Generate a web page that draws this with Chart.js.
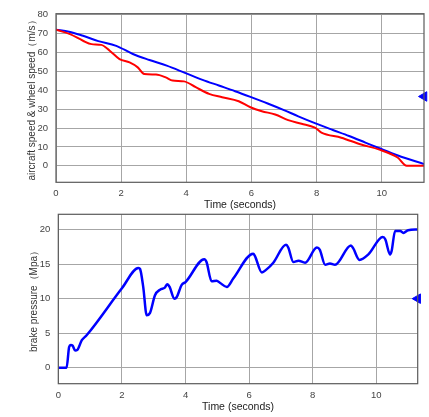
<!DOCTYPE html>
<html>
<head>
<meta charset="utf-8">
<script src="https://cdn.jsdelivr.net/npm/chart.js"></script>
<style>
    body { margin: 0; background: #fff; width: 429px; height: 417px; position: relative; overflow: hidden; }
    canvas { position: absolute; left: 0; }
    #speedChart { top: 0; }
    #pressureChart { top: 200px; }
</style>
</head>
<body>
<canvas id="speedChart" width="429" height="212"></canvas>
<canvas id="pressureChart" width="429" height="217"></canvas>
<script>
/* ============================================
   DATA
   ============================================ */
const timeAircraft = [0, 0.4, 0.83, 1.3, 1.85, 2.36, 2.87, 3.4, 3.96, 4.5, 5.0, 5.5, 5.97, 6.5, 7.0, 7.44, 7.95, 8.5, 9.0, 9.5, 9.93, 10.5, 11.3];
const aircraftSpeed = [72, 71, 68.8, 66, 63.5, 59.2, 56, 53, 49.2, 45.5, 42.5, 39.5, 36.5, 33, 29.5, 26.2, 22.6, 19, 15.8, 12.3, 9.3, 5.5, 1];

const timeWheel = [0, 0.43, 0.83, 1.09, 1.39, 1.65, 1.95, 2.26, 2.51, 2.71, 3.07, 3.37, 3.58, 3.93, 4.29, 4.7, 5.1, 5.61, 5.97, 6.32, 6.73, 7.13, 7.54, 7.95, 8.15, 8.76, 9.37, 9.93, 10.49, 10.77, 11.3];
const wheelSpeed = [72, 69.7, 66.2, 64.4, 64, 60.9, 56.5, 54.7, 52.1, 48.6, 48.3, 46.8, 45.1, 44.7, 41.6, 38.1, 36.3, 34.2, 31, 28.9, 27.2, 24.2, 22.3, 20.2, 17.6, 14.9, 11.3, 8.6, 4.4, 0, 0];

const timePressure = [0, 0.26, 0.34, 0.39, 0.45, 0.53, 0.6, 0.74, 0.89, 2.0, 2.52, 2.57, 2.67, 2.78, 2.88, 3.04, 3.2, 3.35, 3.43, 3.5, 3.65, 3.72, 3.88, 4.0, 4.59, 4.66, 4.82, 4.98, 5.08, 5.3, 5.5, 6.13, 6.18, 6.4, 6.54, 6.76, 7.16, 7.23, 7.39, 7.55, 7.76, 8.13, 8.22, 8.39, 8.54, 8.7, 9.2, 9.27, 9.47, 9.75, 10.2, 10.28, 10.43, 10.48, 10.59, 10.75, 10.85, 11.0, 11.3];
const brakePressure = [0, 0, 3.0, 3.3, 3.2, 2.5, 2.6, 4.0, 4.7, 11.5, 14.45, 14.3, 11.7, 7.6, 7.9, 10.5, 11.3, 11.6, 12.1, 11.7, 10.0, 10.2, 12.0, 12.4, 15.7, 15.3, 12.5, 12.6, 12.3, 11.7, 12.9, 16.5, 16.2, 13.8, 14.2, 15.2, 17.8, 17.4, 15.3, 15.5, 15.2, 17.4, 17.1, 14.9, 15.1, 14.9, 17.7, 17.3, 15.6, 16.4, 18.9, 18.6, 16.4, 16.9, 19.8, 19.8, 19.5, 19.9, 20];

// right-edge marker values
const speedMarker = 36.7;
const pressureMarker = 10;

const timeTicks = [0, 2, 4, 6, 8, 10];
const speedTicks = [0, 10, 20, 30, 40, 50, 60, 70, 80];
const pressureTicks = [0, 5, 10, 15, 20];

/* ============================================
   HELPERS
   ============================================ */
const toPoints = (xs, ys) => xs.map((x, i) => ({ x: x, y: ys[i] }));

const FONT = "'Liberation Sans', Arial, sans-serif";
const GRID = '#a6a6a6';

// draw the box frame around the plot area
const framePlugin = {
    id: 'frame',
    afterDatasetsDraw(chart) {
        const { ctx, chartArea: a } = chart;
        ctx.save();
        ctx.strokeStyle = '#5a5a5a';
        ctx.lineWidth = 1.2;
        ctx.strokeRect(a.left, a.top, a.right - a.left, a.bottom - a.top);
        ctx.restore();
    }
};

function lineSet(data, color, width) {
    return {
        data: data,
        borderColor: color,
        borderWidth: width,
        pointRadius: 0,
        fill: false,
        cubicInterpolationMode: 'monotone'
    };
}

function markerSet(x, y) {
    return {
        data: [{ x: x, y: y }],
        showLine: false,
        pointStyle: 'triangle',
        rotation: -90,
        pointRadius: 5.5,
        backgroundColor: '#0000ff',
        borderColor: '#0000ff',
        clip: false
    };
}

function makeOptions(cfg) {
    return {
        responsive: false,
        animation: false,
        layout: { padding: cfg.padding, autoPadding: false },
        plugins: { legend: { display: false }, tooltip: { enabled: false } },
        scales: {
            x: {
                type: 'linear',
                min: 0,
                max: 11.3,
                afterBuildTicks: s => { s.ticks = timeTicks.map(v => ({ value: v })); },
                afterFit: s => { s.height = cfg.xHeight; },
                grid: { color: GRID, drawTicks: false },
                border: { display: false },
                ticks: { color: '#444', font: { family: FONT, size: 9.5 }, padding: cfg.xTickPad },
                title: {
                    display: true,
                    text: 'Time (seconds)',
                    color: '#222',
                    font: { family: FONT, size: 10.5 },
                    padding: { top: 0, bottom: cfg.xTitlePad }
                }
            },
            y: {
                type: 'linear',
                min: cfg.yMin,
                max: cfg.yMax,
                afterBuildTicks: s => { s.ticks = cfg.yTicks.map(v => ({ value: v })); },
                afterFit: s => { s.width = cfg.yWidth; },
                grid: { color: GRID, drawTicks: false },
                border: { display: false },
                ticks: { color: '#444', font: { family: FONT, size: 9.5 }, padding: 8 },
                title: {
                    display: true,
                    text: cfg.yTitle,
                    color: '#333',
                    font: { family: FONT, size: 10 },
                    padding: { top: cfg.yTitlePad, bottom: 0 }
                }
            }
        }
    };
}

/* ============================================
   TOP: aircraft speed & wheel speed
   ============================================ */
new Chart(document.getElementById('speedChart'), {
    type: 'line',
    data: {
        datasets: [
            lineSet(toPoints(timeWheel, wheelSpeed), '#ff0000', 2),
            lineSet(toPoints(timeAircraft, aircraftSpeed), '#0000ff', 2),
            markerSet(11.3, speedMarker)
        ]
    },
    options: makeOptions({
        padding: { top: 12.7, right: 5, left: 0, bottom: 0 },
        xHeight: 29.7,
        xTickPad: 5,
        xTitlePad: 1,
        yMin: -8.7,
        yMax: 80.5,
        yTicks: speedTicks,
        yWidth: 56,
        yTitle: 'aircraft speed & wheel speed（m/s）',
        yTitlePad: 26
    }),
    plugins: [framePlugin]
});

/* ============================================
   BOTTOM: brake pressure
   ============================================ */
new Chart(document.getElementById('pressureChart'), {
    type: 'line',
    data: {
        datasets: [
            lineSet(toPoints(timePressure, brakePressure), '#0000ff', 2.5),
            markerSet(11.3, pressureMarker)
        ]
    },
    options: makeOptions({
        padding: { top: 14.3, right: 11.3, left: 0, bottom: 0 },
        xHeight: 33.3,
        xTickPad: 6,
        xTitlePad: 4,
        yMin: -2.3,
        yMax: 22.2,
        yTicks: pressureTicks,
        yWidth: 58.3,
        yTitle: 'brake pressure（Mpa）',
        yTitlePad: 28
    }),
    plugins: [framePlugin]
});
</script>
</body>
</html>
